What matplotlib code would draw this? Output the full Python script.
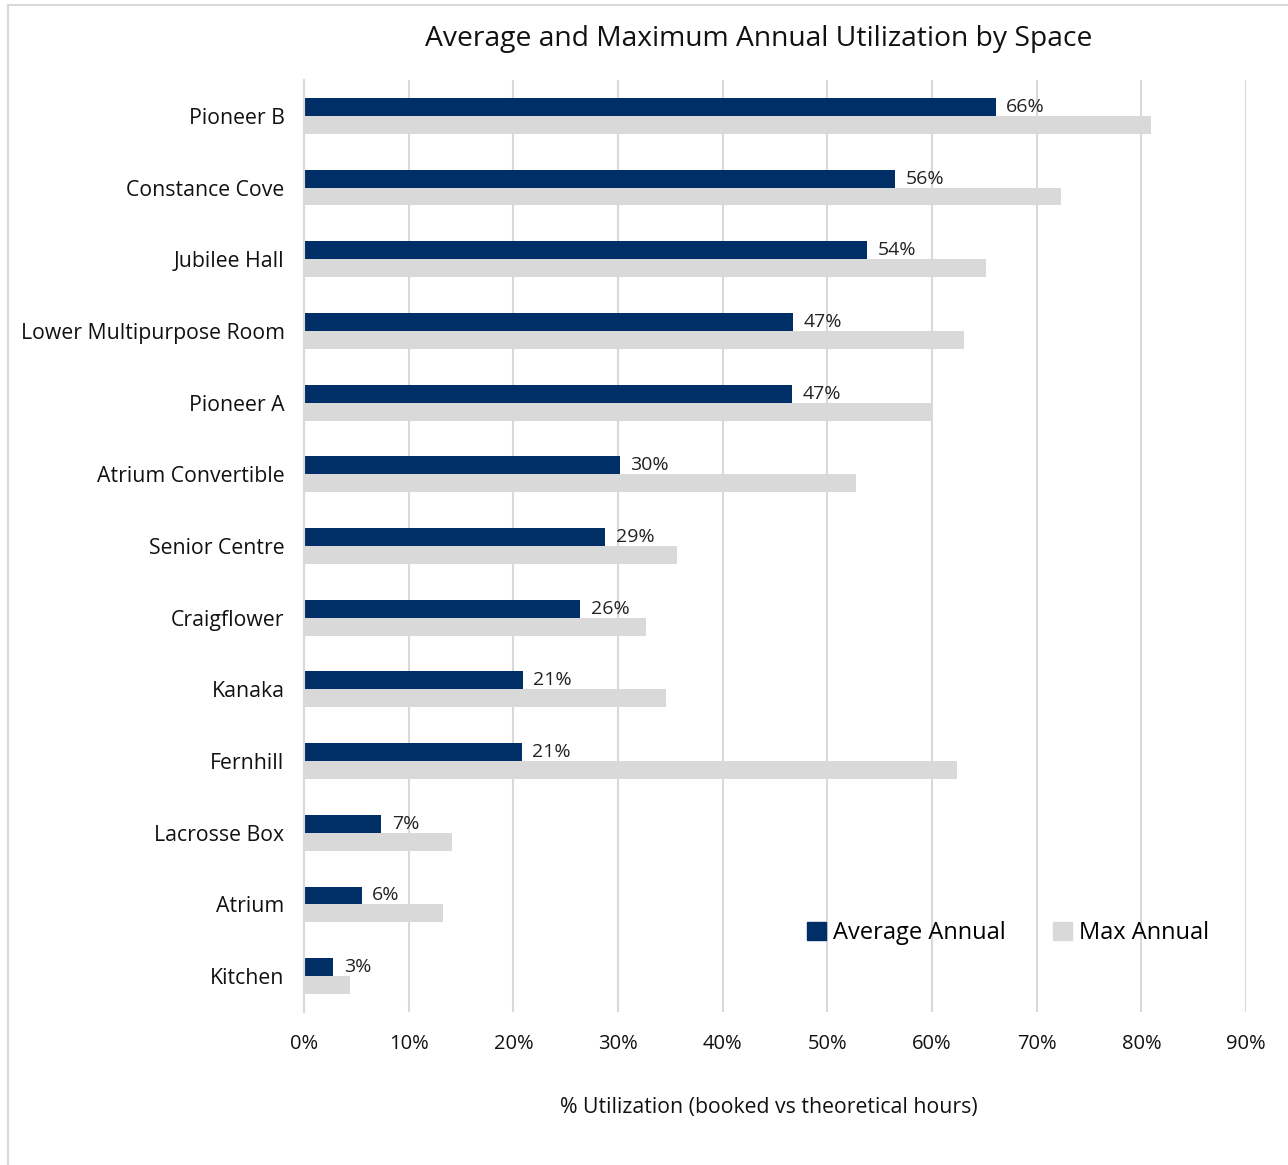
import numpy as np
import matplotlib
matplotlib.use("Agg")
import matplotlib.pyplot as plt
from matplotlib.patches import Rectangle, Patch

plt.rcParams['font.family'] = ['Open Sans', 'DejaVu Sans']

# данные
spaces = ["Pioneer B", "Constance Cove", "Jubilee Hall", "Lower Multipurpose Room",
          "Pioneer A", "Atrium Convertible", "Senior Centre", "Craigflower",
          "Kanaka", "Fernhill", "Lacrosse Box", "Atrium", "Kitchen"]
avg_annual = [0.661, 0.565, 0.538, 0.467, 0.466, 0.302, 0.288, 0.264,
              0.209, 0.208, 0.074, 0.055, 0.028]
avg_labels = ["66%", "56%", "54%", "47%", "47%", "30%", "29%", "26%",
              "21%", "21%", "7%", "6%", "3%"]
max_annual = [0.809, 0.723, 0.652, 0.631, 0.600, 0.527, 0.356, 0.327,
              0.346, 0.624, 0.141, 0.133, 0.044]
x_ticks = [0.0, 0.1, 0.2, 0.3, 0.4, 0.5, 0.6, 0.7, 0.8, 0.9]

blue = '#002F67'
grey = '#D9D9D9'

W, H = 1288, 1165
fig = plt.figure(figsize=(W / 100, H / 100), dpi=100)
ax = fig.add_axes([304 / W, 1 - 1012 / H, (1246 - 304) / W, (1012 - 80) / H])

y = np.arange(len(spaces))
h = 0.25
ax.barh(y - h / 2, avg_annual, height=h, color=blue, label='Average Annual')
ax.barh(y + h / 2, max_annual, height=h, color=grey, label='Max Annual')

for yi, v, lab in zip(y, avg_annual, avg_labels):
    ax.text(v + 0.01, yi - h / 2, lab, va='center', ha='left',
            fontsize=14, color='#222222')

ax.set_ylim(len(spaces) - 0.5, -0.5)
ax.set_xlim(0, 0.9)
ax.set_xticks(x_ticks)
ax.set_xticklabels([f"{int(round(t * 100))}%" for t in x_ticks], fontsize=14.5)
ax.set_yticks(y)
ax.set_yticklabels(spaces, fontsize=15.3)
ax.tick_params(axis='both', length=0, colors='#111111')
ax.tick_params(axis='y', pad=14)
ax.tick_params(axis='x', pad=16)

ax.grid(axis='x', color=grey, linewidth=1.5)
ax.set_axisbelow(True)
for s in ['top', 'right', 'bottom']:
    ax.spines[s].set_visible(False)
ax.spines['left'].set_color(grey)
ax.spines['left'].set_linewidth(1.5)

fig.text(759 / W, 1 - 39 / H, "Average and Maximum Annual Utilization by Space",
         ha='center', va='center', fontsize=20.3, color='#111111')
fig.text(769 / W, 1 - 1107 / H, "% Utilization (booked vs theoretical hours)",
         ha='center', va='center', fontsize=15.3, color='#111111')

handles = [Patch(color=blue), Patch(color=grey)]
fig.legend(handles, ['Average Annual', 'Max Annual'], loc='center',
           bbox_to_anchor=(1008 / W, 1 - 933 / H), ncol=2, frameon=False,
           fontsize=17, handlelength=0.8, handleheight=0.8, handletextpad=0.3,
           columnspacing=2.0)

# рамка
fig.patches.append(Rectangle((8 / W, -0.1), 1.2, 1.1 - 5 / H,
                             transform=fig.transFigure, fill=False,
                             edgecolor=grey, linewidth=1.5))

fig.savefig("out.png", dpi=100)
